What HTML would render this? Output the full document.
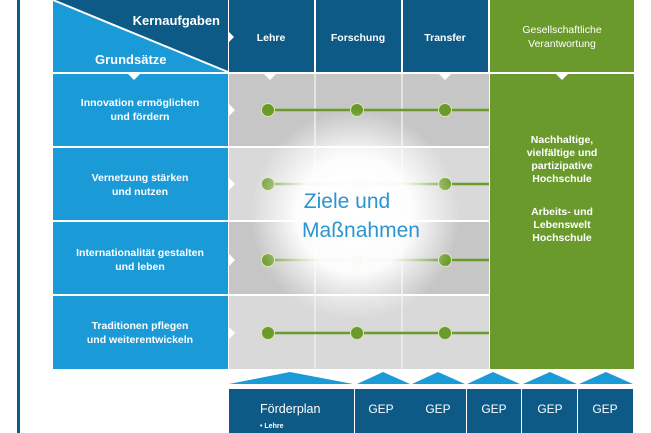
<!DOCTYPE html>
<html><head><meta charset="utf-8"><style>
html,body{margin:0;padding:0;background:#fff;width:651px;height:433px;overflow:hidden}
svg text{font-family:"Liberation Sans",sans-serif;fill:#fff}
.b{font-weight:bold}
</style></head><body>
<svg width="651" height="433" viewBox="0 0 651 433">
<defs>
<radialGradient id="glow" cx="355" cy="215" r="105" gradientUnits="userSpaceOnUse">
<stop offset="0" stop-color="#fff" stop-opacity="1"/>
<stop offset="0.55" stop-color="#fff" stop-opacity="0.95"/>
<stop offset="1" stop-color="#fff" stop-opacity="0"/>
</radialGradient>
</defs>
<rect x="17" y="0" width="3" height="433" fill="#0d5a86"/>
<rect x="53" y="0" width="175" height="72" fill="#1a9ad6"/>
<polygon points="53,0 228,0 228,72" fill="#0d5a86"/>
<line x1="53" y1="0" x2="228" y2="72" stroke="#fff" stroke-width="2"/>
<text class="b" x="220" y="25" font-size="13" text-anchor="end">Kernaufgaben</text>
<text class="b" x="95" y="64" font-size="13">Grundsätze</text>
<rect x="229" y="0" width="85" height="72" fill="#0d5a86"/>
<rect x="316" y="0" width="85" height="72" fill="#0d5a86"/>
<rect x="403" y="0" width="85" height="72" fill="#0d5a86"/>
<rect x="490" y="0" width="144" height="72" fill="#6a9a2b"/>
<text class="b" x="271" y="41" font-size="10.5" text-anchor="middle">Lehre</text>
<text class="b" x="358" y="41" font-size="10.5" text-anchor="middle">Forschung</text>
<text class="b" x="445" y="41" font-size="10.5" text-anchor="middle">Transfer</text>
<text x="562" y="33" font-size="10.5" text-anchor="middle">Gesellschaftliche</text>
<text x="562" y="47" font-size="10.5" text-anchor="middle">Verantwortung</text>
<polygon points="228,31 234,37 228,43" fill="#fff"/>
<rect x="53" y="74" width="175" height="72" fill="#1a9ad6"/>
<rect x="53" y="148" width="175" height="72" fill="#1a9ad6"/>
<rect x="53" y="222" width="175" height="72" fill="#1a9ad6"/>
<rect x="53" y="296" width="175" height="73" fill="#1a9ad6"/>
<polygon points="128,74 140,74 134,80" fill="#fff"/>
<g font-size="10.5" text-anchor="middle" class="b">
<text x="140" y="106">Innovation ermöglichen</text><text x="140" y="120">und fördern</text>
<text x="140" y="181">Vernetzung stärken</text><text x="140" y="195">und nutzen</text>
<text x="140" y="256">Internationalität gestalten</text><text x="140" y="270">und leben</text>
<text x="140" y="329">Traditionen pflegen</text><text x="140" y="343">und weiterentwickeln</text>
</g>
<rect x="229" y="74" width="260" height="72" fill="#c6c6c6"/>
<rect x="229" y="148" width="260" height="72" fill="#d9d9d9"/>
<rect x="229" y="222" width="260" height="72" fill="#c6c6c6"/>
<rect x="229" y="296" width="260" height="73" fill="#d9d9d9"/>
<line x1="315" y1="74" x2="315" y2="369" stroke="#eee" stroke-width="1.5"/>
<line x1="402" y1="74" x2="402" y2="369" stroke="#eee" stroke-width="1.5"/>
<rect x="490" y="74" width="144" height="295" fill="#6a9a2b"/>
<polygon points="556,74 568,74 562,80" fill="#fff"/>
<polygon points="264,74 276,74 270,80" fill="#fff"/>
<polygon points="439,74 451,74 445,80" fill="#fff"/>
<g fill="#fff">
<polygon points="229,104 235,110 229,116"/><polygon points="229,178 235,184 229,190"/>
<polygon points="229,254 235,260 229,266"/><polygon points="229,327 235,333 229,339"/>
</g>
<g font-size="10.5" text-anchor="middle" class="b">
<text x="562" y="143">Nachhaltige,</text><text x="562" y="156">vielfältige und</text>
<text x="562" y="169">partizipative</text><text x="562" y="182">Hochschule</text>
<text x="562" y="215">Arbeits- und</text><text x="562" y="228">Lebenswelt</text><text x="562" y="241">Hochschule</text>
</g>
<g stroke="#6a9a2b" stroke-width="2.5">
<line x1="268" y1="110" x2="489" y2="110"/><line x1="268" y1="184" x2="489" y2="184"/>
<line x1="268" y1="260" x2="489" y2="260"/><line x1="268" y1="333" x2="489" y2="333"/>
</g>
<g fill="#6a9a2b" stroke="#d6e6b0" stroke-width="1">
<circle cx="268" cy="110" r="6.5"/><circle cx="357" cy="110" r="6.5"/><circle cx="445" cy="110" r="6.5"/>
<circle cx="268" cy="184" r="6.5"/><circle cx="357" cy="184" r="6.5"/><circle cx="445" cy="184" r="6.5"/>
<circle cx="268" cy="260" r="6.5"/><circle cx="357" cy="260" r="6.5"/><circle cx="445" cy="260" r="6.5"/>
<circle cx="268" cy="333" r="6.5"/><circle cx="357" cy="333" r="6.5"/><circle cx="445" cy="333" r="6.5"/>
</g>
<circle cx="355" cy="215" r="105" fill="url(#glow)"/>
<text x="347" y="208" font-size="21" text-anchor="middle" style="fill:#2a95d0">Ziele und</text>
<text x="361" y="237" font-size="21" text-anchor="middle" style="fill:#2a95d0">Maßnahmen</text>
<g fill="#1a9ad6">
<polygon points="229,384 290,372 353,384"/>
<polygon points="357,384 383,372 410,384"/>
<polygon points="412,384 438,372 465,384"/>
<polygon points="467,384 493,372 520,384"/>
<polygon points="523,384 550,372 577,384"/>
<polygon points="579,384 606,372 633,384"/>
</g>
<rect x="229" y="389" width="125" height="44" fill="#0d5a86"/>
<rect x="355" y="389" width="111" height="44" fill="#0d5a86"/>
<rect x="467" y="389" width="54" height="44" fill="#0d5a86"/>
<rect x="522" y="389" width="55" height="44" fill="#0d5a86"/>
<rect x="578" y="389" width="55" height="44" fill="#0d5a86"/>
<text x="260" y="413" font-size="12.5">Förderplan</text>
<text x="260" y="428" font-size="7" class="b">• Lehre</text>
<g font-size="12" text-anchor="middle">
<text x="381" y="413">GEP</text><text x="438" y="413">GEP</text><text x="494" y="413">GEP</text>
<text x="550" y="413">GEP</text><text x="605" y="413">GEP</text>
</g>
</svg>
</body></html>
